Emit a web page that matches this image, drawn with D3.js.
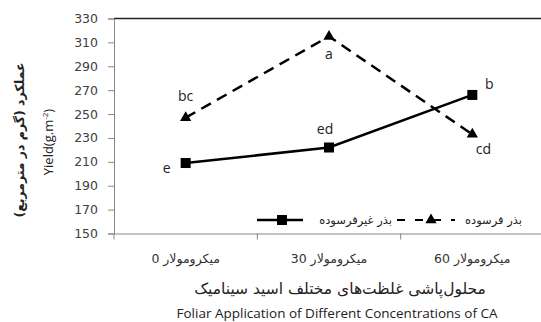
<!DOCTYPE html>
<html>
<head>
<meta charset="utf-8">
<script src="https://cdn.jsdelivr.net/npm/d3@7"></script>
<style>
  body { margin: 0; background: #fff; }
  #stage { width: 541px; height: 322px; }
</style>
</head>
<body>
<div id="stage"></div>
<script>
const categories = ["میکرومولار 0", "میکرومولار 30", "میکرومولار 60"];
const freshSeed = [209, 222, 266];
const agedSeed = [247, 315, 233];
const freshLetters = ["e", "ed", "b"];
const agedLetters = ["bc", "a", "cd"];
const yTicks = [150, 170, 190, 210, 230, 250, 270, 290, 310, 330];
const seriesNames = ["بذر غیرفرسوده", "بذر فرسوده"];

const width = 541;
const height = 322;

const svg = d3
  .select("#stage")
  .append("svg")
  .attr("width", width)
  .attr("height", height);

const x = d3.scaleBand().domain(categories).range([114, 544]);
const y = d3.scaleLinear().domain([150, 330]).range([233.5, 18.5]);
const cx = (c) => x(c) + x.bandwidth() / 2;

// top border of plot area
svg
  .append("line")
  .attr("x1", 114)
  .attr("x2", width)
  .attr("y1", y(330))
  .attr("y2", y(330))
  .attr("stroke", "#222")
  .attr("stroke-width", 1.3);

const yAxis = svg
  .append("g")
  .attr("transform", "translate(114,0)")
  .call(d3.axisLeft(y).tickValues(yTicks).tickSize(6).tickPadding(10));
yAxis.selectAll("path, line").attr("stroke", "#888");
yAxis
  .selectAll("text")
  .attr("font-family", "DejaVu Sans, sans-serif")
  .attr("font-size", "12.5px")
  .attr("fill", "#404040");

const xAxis = svg
  .append("g")
  .attr("transform", `translate(0,${y(150)})`)
  .call(
    d3
      .axisBottom(x)
      .tickSize(0)
      .tickFormat(() => "")
  );
xAxis.select("path").attr("stroke", "#888");
// boundary ticks between categories
xAxis
  .selectAll(".sep")
  .data(categories)
  .enter()
  .append("line")
  .attr("x1", (c) => x(c))
  .attr("x2", (c) => x(c))
  .attr("y1", 0)
  .attr("y2", 6)
  .attr("stroke", "#888");

svg
  .selectAll(".cat")
  .data(categories)
  .enter()
  .append("text")
  .attr("x", (c) => cx(c))
  .attr("y", 263)
  .attr("text-anchor", "middle")
  .attr("direction", "rtl")
  .attr("font-family", "DejaVu Sans, sans-serif")
  .attr("font-size", "12.5px")
  .attr("fill", "#333")
  .text((c) => c);

const line = d3
  .line()
  .x((d, i) => cx(categories[i]))
  .y((d) => y(d));

svg
  .append("path")
  .datum(agedSeed)
  .attr("d", line)
  .attr("fill", "none")
  .attr("stroke", "#000")
  .attr("stroke-width", 2.5)
  .attr("stroke-dasharray", "11,7");

svg
  .append("path")
  .datum(freshSeed)
  .attr("d", line)
  .attr("fill", "none")
  .attr("stroke", "#000")
  .attr("stroke-width", 2.5);

svg
  .selectAll(".sq")
  .data(freshSeed)
  .enter()
  .append("rect")
  .attr("x", (d, i) => cx(categories[i]) - 5)
  .attr("y", (d) => y(d) - 5)
  .attr("width", 10)
  .attr("height", 10)
  .attr("fill", "#000");

svg
  .selectAll(".tri")
  .data(agedSeed)
  .enter()
  .append("path")
  .attr("d", d3.symbol().type(d3.symbolTriangle).size(55))
  .attr("transform", (d, i) => `translate(${cx(categories[i])},${y(d)})`)
  .attr("fill", "#000");

// significance letters
const freshOffsets = [[-19, 10], [-4, -14], [17, -6]];
const agedOffsets = [[0, -17], [0, 23], [11, 20]];

function letters(values, labels, offsets) {
  svg
    .append("g")
    .selectAll("text")
    .data(values)
    .enter()
    .append("text")
    .attr("x", (d, i) => cx(categories[i]) + offsets[i][0])
    .attr("y", (d, i) => y(d) + offsets[i][1])
    .attr("text-anchor", "middle")
    .attr("font-family", "Open Sans, sans-serif")
    .attr("font-size", "14px")
    .attr("fill", "#222")
    .text((d, i) => labels[i]);
}
letters(freshSeed, freshLetters, freshOffsets);
letters(agedSeed, agedLetters, agedOffsets);

// legend
const legend = svg.append("g").attr("transform", "translate(0,220)");
legend
  .append("line")
  .attr("x1", 257)
  .attr("x2", 303)
  .attr("stroke", "#000")
  .attr("stroke-width", 2.5);
legend
  .append("rect")
  .attr("x", 277)
  .attr("y", -5)
  .attr("width", 10)
  .attr("height", 10)
  .attr("fill", "#000");
legend
  .append("text")
  .attr("x", 392)
  .attr("y", 4)
  .attr("text-anchor", "start")
  .attr("direction", "rtl")
  .attr("font-family", "DejaVu Sans, sans-serif")
  .attr("font-size", "11.5px")
  .attr("fill", "#222")
  .text(seriesNames[0]);
legend
  .append("line")
  .attr("x1", 397)
  .attr("x2", 455)
  .attr("stroke", "#000")
  .attr("stroke-width", 2)
  .attr("stroke-dasharray", "8,10");
legend
  .append("path")
  .attr("d", d3.symbol().type(d3.symbolTriangle).size(55))
  .attr("transform", "translate(431,0)")
  .attr("fill", "#000");
legend
  .append("text")
  .attr("x", 522)
  .attr("y", 4)
  .attr("text-anchor", "start")
  .attr("direction", "rtl")
  .attr("font-family", "DejaVu Sans, sans-serif")
  .attr("font-size", "11.5px")
  .attr("fill", "#222")
  .text(seriesNames[1]);

// axis titles
svg
  .append("text")
  .attr("x", 340)
  .attr("y", 294)
  .attr("text-anchor", "middle")
  .attr("direction", "rtl")
  .attr("font-family", "DejaVu Sans, sans-serif")
  .attr("font-size", "15.5px")
  .attr("fill", "#222")
  .text("محلول‌پاشی غلظت‌های مختلف اسید سینامیک");

svg
  .append("text")
  .attr("x", 337)
  .attr("y", 318)
  .attr("text-anchor", "middle")
  .attr("font-family", "Open Sans, sans-serif")
  .attr("font-size", "13.5px")
  .attr("fill", "#222")
  .text("Foliar Application of Different Concentrations of CA");

svg
  .append("text")
  .attr("transform", "translate(24,140) rotate(-90)")
  .attr("text-anchor", "middle")
  .attr("direction", "rtl")
  .attr("font-family", "DejaVu Sans, sans-serif")
  .attr("font-size", "12.5px")
  .attr("font-weight", "bold")
  .attr("fill", "#222")
  .text("عملکرد (گرم در مترمربع)");

const yield_ = svg
  .append("text")
  .attr("transform", "translate(53,142) rotate(-90)")
  .attr("text-anchor", "middle")
  .attr("font-family", "Open Sans, sans-serif")
  .attr("font-size", "13px")
  .attr("fill", "#222");
yield_.append("tspan").text("Yield(g.m");
yield_.append("tspan").attr("dy", -5).attr("font-size", "8px").text("-2");
yield_.append("tspan").attr("dy", 5).text(")");
</script>
</body>
</html>
